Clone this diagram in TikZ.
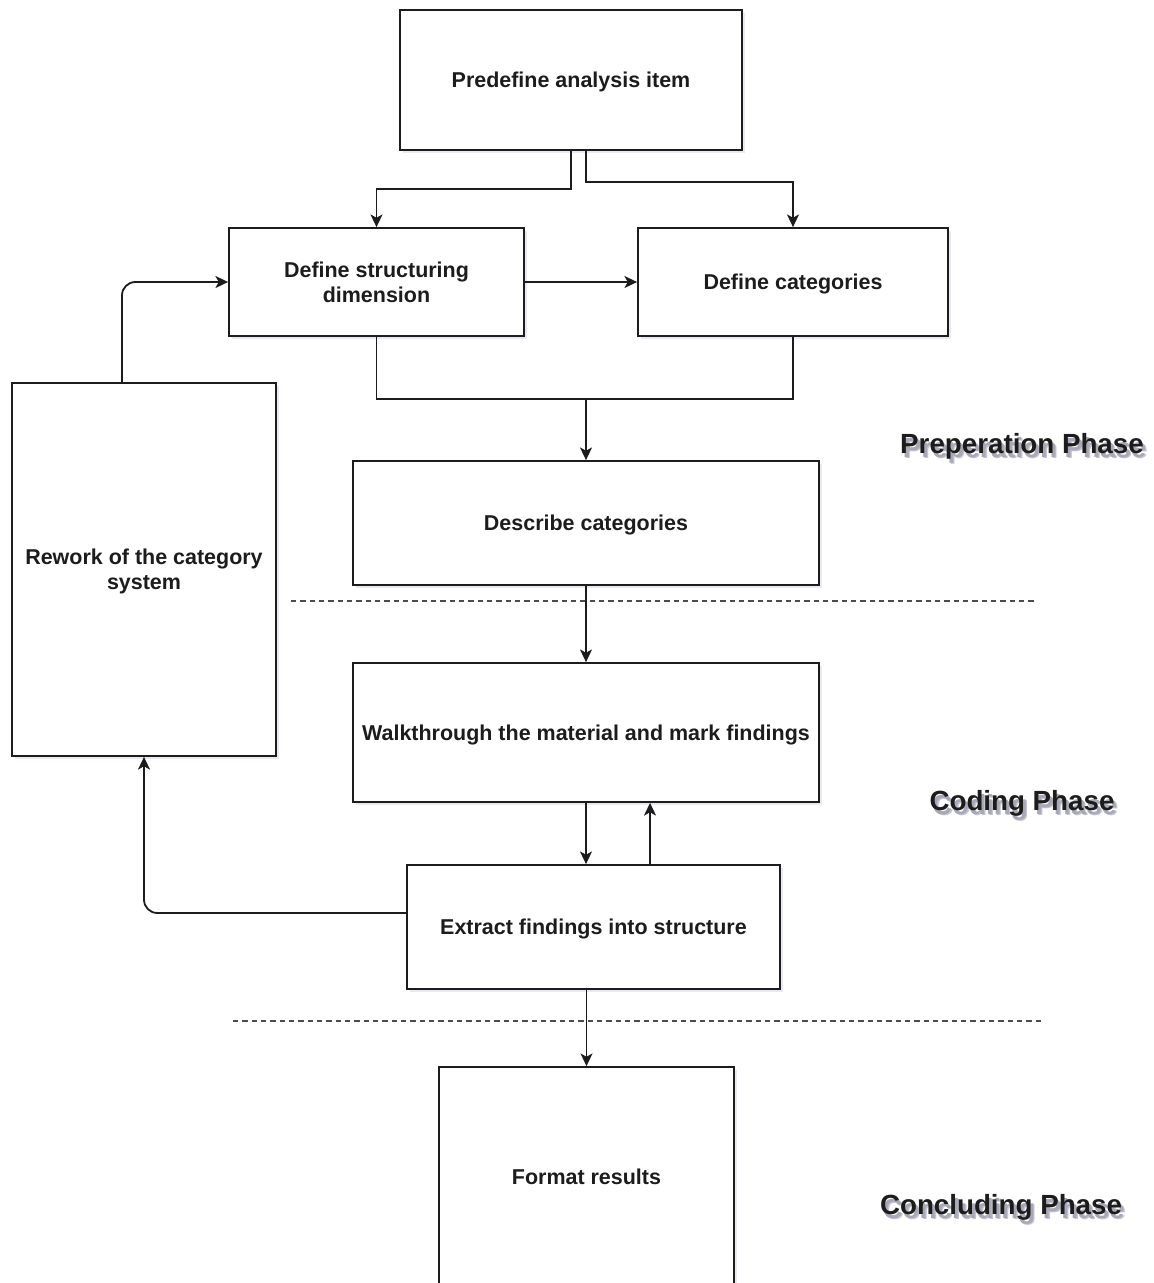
\documentclass[tikz,border=0pt]{standalone}
\usepackage{fontspec}
\setmainfont{Liberation Sans}
\usetikzlibrary{arrows.meta,calc,shadows}

\definecolor{inkc}{HTML}{1C1C1C}
\definecolor{shadowc}{HTML}{C4C4D0}
\definecolor{shadowd}{HTML}{A8A8B6}
% bold label with a soft offset shadow behind it
\newcommand\shadowedtext[1]{%
  \makebox[0pt][l]{\kern3pt\raisebox{-3.4pt}{\textcolor{shadowc}{#1}}}%
  \makebox[0pt][l]{\kern2pt\raisebox{-2.4pt}{\textcolor{shadowd}{#1}}}#1}

\tikzset{
  box/.style={draw=inkc, line width=1.35pt, fill=white, align=center,
    font=\bfseries\fontsize{16.1}{18.8}\selectfont, text=inkc, text depth=0pt,
    drop shadow={shadow xshift=2pt, shadow yshift=-2pt, opacity=0.22, fill=black!60!blue!40}},
  arr/.style={draw=inkc, line width=1.35pt, -{Stealth[length=9.5pt,width=9pt,inset=2.5pt]}},
  link/.style={draw=inkc, line width=1.35pt},
  sep/.style={draw=black!70, line width=0.8pt, dash pattern=on 4pt off 3pt},
  phase/.style={font=\bfseries\fontsize{20.8}{24}\selectfont, text=inkc},
}

\begin{document}
\begin{tikzpicture}[x=0.75pt, y=-0.75pt]
  \useasboundingbox (0,0) rectangle (1154,1283);
  \begin{scope}
  \clip (0,0) rectangle (1154,1283);

  % process boxes
  \node[box, minimum width=256.5pt, minimum height=105pt]   (pre)  at (571,80)    {Predefine analysis item};
  \node[box, minimum width=221.25pt, minimum height=81pt]   (dsd)  at (376.5,282) {Define structuring\\dimension};
  \node[box, minimum width=232.5pt, minimum height=81pt]    (dc)   at (793,282)   {Define categories};
  \node[box, minimum width=198pt, minimum height=279.75pt]  (rw)   at (144,569.5) {Rework of the category\\system};
  \node[box, minimum width=349.5pt, minimum height=93pt]    (desc) at (586,523)   {Describe categories};
  \node[box, minimum width=349.5pt, minimum height=104.25pt](walk) at (586,732.5) {Walkthrough the material and mark findings};
  \node[box, minimum width=279.75pt, minimum height=93pt]   (ext)  at (593.5,927) {Extract findings into structure};
  \node[box, minimum width=221.25pt, minimum height=165pt]  (fmt)  at (586.5,1177){Format results};

  % phase separators
  \coordinate (s1a) at (291,601);  \coordinate (s1b) at (1035,601);
  \coordinate (s2a) at (233,1021); \coordinate (s2b) at (1042,1021);
  \draw[sep] (s1a) -- (s1b);
  \draw[sep] (s2a) -- (s2b);

  % connectors
  \draw[arr] (pre.south) -- ++(0,38) -| (dsd.north);
  \draw[arr] ([xshift=11.25pt]pre.south) -- ++(0,31) -| (dc.north);
  \draw[arr] (dsd.east) -- (dc.west);
  \coordinate (merge) at ($(dsd.south)+(0,62)$);
  \draw[link] (dsd.south) -- (merge) -| (dc.south);
  \draw[arr] (merge -| desc.north) -- (desc.north);
  \draw[arr] (desc.south) -- (walk.north);
  \draw[arr] (walk.south) -- (walk.south |- ext.north);
  \draw[arr] ([xshift=42.4pt]ext.north) -- ([xshift=42.4pt]ext.north |- walk.south);
  \draw[arr, rounded corners=10pt] ([yshift=10.5pt]ext.west) -| (rw.south);
  \draw[arr, rounded corners=10pt] ([xshift=-16.5pt]rw.north) |- (dsd.west);
  \draw[arr] (fmt.north |- ext.south) -- (fmt.north);

  % phase labels
  \node[phase] (prep) at (1022,449)  {\shadowedtext{Preperation Phase}};
  \node[phase] (cod)  at (1022,806)  {\shadowedtext{Coding Phase}};
  \node[phase] (con)  at (1001,1210) {\shadowedtext{Concluding Phase}};
  \end{scope}
\end{tikzpicture}
\end{document}
